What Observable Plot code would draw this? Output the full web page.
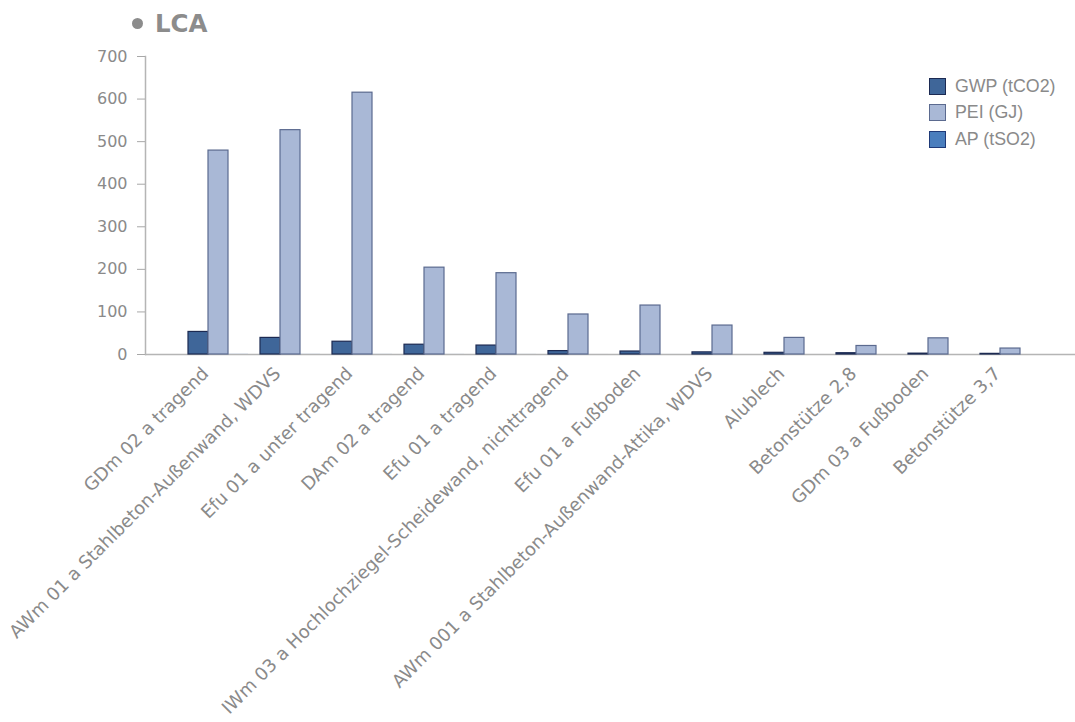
<!DOCTYPE html>
<html>
<head>
<meta charset="utf-8">
<script src="https://cdn.jsdelivr.net/npm/d3@7"></script>
<script src="https://cdn.jsdelivr.net/npm/@observablehq/plot@0.6"></script>
<style>
  html, body { margin: 0; padding: 0; background: #fff; }
  #wrap { position: relative; width: 1075px; height: 722px; overflow: hidden; }
  #title { height: 45px; box-sizing: border-box; padding-left: 132px; padding-top: 8px;
    font-family: "DejaVu Sans", sans-serif; font-weight: bold; font-size: 24.5px; color: #8c8c8c; line-height: 32px; }
  #title .dot { display: inline-block; width: 11px; height: 11px; border-radius: 50%; background: #8c8c8c;
    vertical-align: 3px; margin-right: 12px; }
  #legend { position: absolute; left: 929px; top: 73px; font-family: "Liberation Sans", Arial, sans-serif;
    font-size: 17.8px; color: #8a8a8a; }
  #legend .row { display: flex; align-items: center; height: 26.5px; }
  #legend .sw { width: 15px; height: 15px; border: 1.5px solid; margin-right: 9px; }
</style>
</head>
<body>
<div id="wrap">
  <div id="title"><span class="dot"></span>LCA</div>
  <div id="chart"></div>
  <div id="legend"></div>
</div>
<script>
const categories = [
  "GDm 02 a tragend",
  "AWm 01 a Stahlbeton-Außenwand, WDVS",
  "Efu 01 a unter tragend",
  "DAm 02 a tragend",
  "Efu 01 a tragend",
  "IWm 03 a Hochlochziegel-Scheidewand, nichttragend",
  "Efu 01 a Fußboden",
  "AWm 001 a Stahlbeton-Außenwand-Attika, WDVS",
  "Alublech",
  "Betonstütze 2,8",
  "GDm 03 a Fußboden",
  "Betonstütze 3,7"
];
const seriesNames = ["GWP (tCO2)", "PEI (GJ)", "AP (tSO2)"];
const gwp = [53, 39, 30, 23, 21, 8, 7, 5, 4, 3, 2, 1.5];
const pei = [479, 527, 615, 204, 191, 94, 115, 68, 39, 20, 38, 14];
const ap  = [0.2, 0.15, 0.12, 0.1, 0.08, 0.04, 0.03, 0.02, 0.02, 0.01, 0.01, 0.01];
const yTicks = [0, 100, 200, 300, 400, 500, 600, 700];
const fills   = ["#3f6699", "#a9b8d6", "#4a7ebd"];
const strokes = ["#1c2a52", "#5b6a8f", "#1f3a78"];

const seriesValues = [gwp, pei, ap];
const rows = [];
seriesValues.forEach((vals, s) => vals.forEach((v, i) => rows.push({category: categories[i], series: seriesNames[s], s, value: v})));

const barW = 20;
const step = 72;
const inset = (step - barW) / 2;

const marks = [
  Plot.ruleY([0], {stroke: "#b5b5b5", strokeWidth: 1.5}),
  Plot.frame({anchor: "left", stroke: "#b5b5b5", strokeWidth: 1.5}),
  Plot.axisY({ticks: yTicks, tickSize: 8, tickPadding: 10, stroke: "#a8a8a8", fill: "#8a8a8a",
    fontSize: 16, label: null}),
  Plot.axisX({tickSize: 0, tickPadding: 16, tickRotate: -45, fill: "#8a8a8a", fontSize: 18, label: null, dx: -13})
];
seriesNames.forEach((name, s) => {
  marks.push(Plot.barY(rows.filter(d => d.s === s), {
    x: "category", y: "value",
    insetLeft: inset, insetRight: inset,
    dx: (s - 1) * barW,
    fill: fills[s], stroke: s === 2 ? "none" : strokes[s], strokeWidth: 1.2
  }));
});

const chart = Plot.plot({
  width: 1075,
  height: 677,
  marginLeft: 145,
  marginRight: 0,
  marginTop: 11,
  marginBottom: 368,
  style: {fontFamily: "'DejaVu Sans', sans-serif", background: "#fff"},
  x: {domain: categories, paddingInner: 0, paddingOuter: 0.4583, align: 0.56, axis: null},
  y: {domain: [0, 700], axis: null},
  marks
});
document.getElementById("chart").appendChild(chart);

const legend = document.getElementById("legend");
seriesNames.forEach((name, s) => {
  const row = document.createElement("div");
  row.className = "row";
  const sw = document.createElement("span");
  sw.className = "sw";
  sw.style.background = fills[s];
  sw.style.borderColor = strokes[s];
  const t = document.createElement("span");
  t.textContent = name;
  row.appendChild(sw);
  row.appendChild(t);
  legend.appendChild(row);
});
</script>
</body>
</html>
